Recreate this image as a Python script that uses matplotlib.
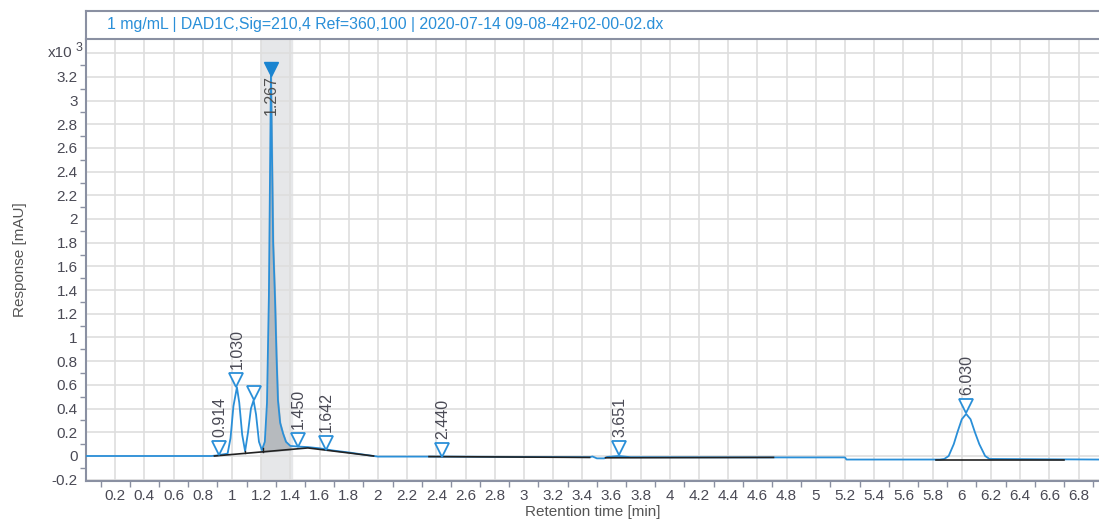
import matplotlib
matplotlib.use('Agg')
import matplotlib.pyplot as plt
import numpy as np

# chromatogram trace (time in min, response in 10^3 mAU)
trace_t = [0.00, 0.86, 0.90, 0.93, 0.97, 0.99, 1.01, 1.034, 1.05, 1.07, 1.09,
           1.11, 1.13, 1.148, 1.165, 1.185, 1.205, 1.225, 1.24, 1.253, 1.267,
           1.282, 1.295, 1.305, 1.315, 1.33, 1.35, 1.37, 1.40, 1.45, 1.52, 1.60,
           1.70, 1.80, 1.90, 1.97, 2.00, 2.40, 3.00, 3.45, 3.47, 3.50, 3.55,
           3.57, 3.65, 3.73, 4.70, 5.20, 5.21, 5.85, 5.88, 5.91, 5.945, 5.97,
           6.00, 6.03, 6.06, 6.09, 6.12, 6.16, 6.19, 6.94]
trace_y = [0.000, 0.000, 0.005, 0.012, 0.020, 0.15, 0.42, 0.58, 0.45, 0.18, 0.04,
           0.20, 0.40, 0.47, 0.35, 0.12, 0.05, 0.12, 0.45, 1.35, 3.22,
           1.80, 1.32, 0.85, 0.47, 0.28, 0.19, 0.12, 0.085, 0.08, 0.075, 0.065,
           0.045, 0.03, 0.012, 0.000, -0.005, -0.005, -0.008, -0.010, -0.004, -0.020, -0.020,
           -0.008, 0.000, -0.010, -0.012, -0.012, -0.030, -0.030, -0.025, 0.000, 0.10, 0.20,
           0.31, 0.355, 0.31, 0.20, 0.10, 0.000, -0.025, -0.030]

# integration baselines (black segments)
base_segments = [
    ([0.88, 1.52, 1.97], [0.000, 0.068, 0.000]),
    ([2.35, 3.45], [-0.005, -0.012]),
    ([3.56, 4.71], [-0.015, -0.012]),
    ([5.82, 6.70], [-0.030, -0.030]),
]
drop_t = [1.09, 1.21]

# peak markers
peak_t = [0.914, 1.030, 1.148, 1.450, 1.642, 2.440, 3.651, 6.030]
peak_mark = [0.07, 0.64, 0.53, 0.135, 0.11, 0.05, 0.068, 0.42]
peak_lbl = ['0.914', '1.030', '', '1.450', '1.642', '2.440', '3.651', '6.030']
main_t, main_mark, main_lbl = 1.267, 3.27, '1.267'
band = (1.20, 1.41)

title = '1 mg/mL | DAD1C,Sig=210,4 Ref=360,100 | 2020-07-14 09-08-42+02-00-02.dx'

blue = '#2a8fd8'
frame = '#8a90a2'
txt = '#4a4a55'
fs = 11

plt.rcParams['font.family'] = ['Liberation Sans', 'DejaVu Sans']

fig = plt.figure(figsize=(10.99, 5.22), dpi=100)
L, B, T = 86/1099, 1 - 481/522, 1 - 39/522
ax = fig.add_axes([L, B, 1 - L, T - B])
hdr = fig.add_axes([L, T, 1 - L, 28/522])

# header box
hdr.set_xticks([]); hdr.set_yticks([])
for s in ['left', 'top', 'bottom']:
    hdr.spines[s].set_color(frame)
    hdr.spines[s].set_linewidth(1.5)
hdr.spines['right'].set_visible(False)
hdr.text(21/1013, 0.5, title, color=blue, fontsize=11.4, va='center', ha='left',
         transform=hdr.transAxes)

ax.axvspan(*band, color='#e6e7e9', zorder=0)

# shaded main peak area
t = np.array(trace_t); y = np.array(trace_y)
m = (t >= 1.205) & (t <= 1.40)
bt, by = base_segments[0]
ax.fill_between(t[m], y[m], np.interp(t[m], bt, by), color='#b6babe', zorder=2)

ax.plot(trace_t, trace_y, color=blue, lw=1.3, zorder=3)
for bt, by in base_segments:
    ax.plot(bt, by, color='#222222', lw=1.2, zorder=4)
for dt in drop_t:
    ax.plot([dt, dt], [np.interp(dt, *base_segments[0]), np.interp(dt, t, y)],
            color='#222222', lw=1.0, zorder=4)

ax.plot(peak_t, peak_mark, 'v', ms=9.5, mfc='white', mec=blue, mew=1.3, zorder=5,
        ls='none')
for pt, pm, lb in zip(peak_t, peak_mark, peak_lbl):
    if lb:
        ax.annotate(lb, (pt, pm), xytext=(0.5, 8), textcoords='offset points',
                    rotation=90, ha='center', va='bottom', color=txt, fontsize=fs + 0.5)
ax.plot([main_t], [main_mark], 'v', ms=10, color='#1a84d0', zorder=6)
ax.annotate(main_lbl, (main_t, main_mark), xytext=(0, -5),
            textcoords='offset points', rotation=90, ha='center', va='top',
            color='#505050', fontsize=fs + 0.5, zorder=7)

ax.set_xlim(0, 6.94)
ax.set_ylim(-0.211, 3.519)
xt = np.round(np.arange(0.2, 6.9, 0.2), 1)
ax.set_xticks(xt)
ax.set_xticklabels([f'{v:g}' for v in xt])
ax.set_xticks(np.round(np.arange(0.1, 6.94, 0.1), 1), minor=True)
yt = np.round(np.arange(-0.2, 3.5, 0.2), 1)
ax.set_yticks(yt)
ax.set_yticklabels([f'{v:g}' if v < 3.3 else '' for v in yt])
ax.set_yticks(np.round(np.arange(-0.2, 3.5, 0.1), 1), minor=True)
ax.text(-0.013, 3.4, 'x10', transform=ax.get_yaxis_transform(), ha='right',
        va='center', color=txt, fontsize=fs)
ax.text(-0.0105, 3.44, '3', transform=ax.get_yaxis_transform(), ha='left',
        va='center', color=txt, fontsize=9)

ax.grid(True, which='major', color='#dedede', lw=1.2, zorder=0)
ax.set_axisbelow(True)
ax.tick_params(which='both', colors=frame, labelcolor=txt, labelsize=fs, length=4,
               width=1)
ax.tick_params(which='major', length=0, pad=6)
for s in ['top', 'right']:
    ax.spines[s].set_visible(False)
for s in ['left', 'bottom']:
    ax.spines[s].set_color(frame)
    ax.spines[s].set_linewidth(1.5)

ax.set_xlabel('Retention time [min]', color='#555555', fontsize=fs, labelpad=1)
ax.set_ylabel('Response [mAU]', color='#555555', fontsize=fs, labelpad=18)

fig.savefig('out.png', dpi=100)
